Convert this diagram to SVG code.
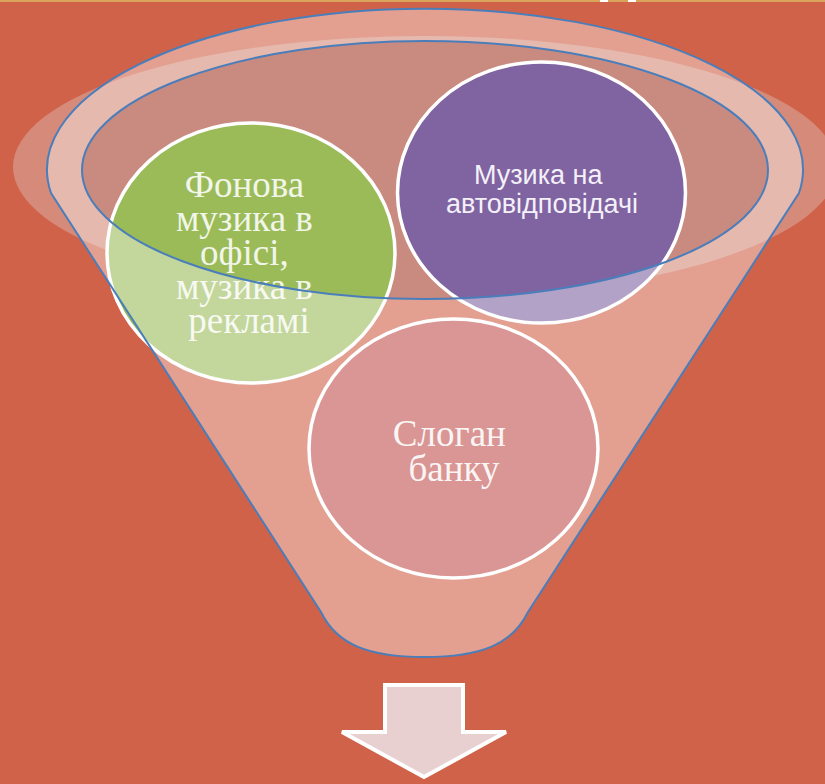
<svg xmlns="http://www.w3.org/2000/svg" width="825" height="784" viewBox="0 0 825 784">
  <style>
    .circ { stroke: #ffffff; stroke-width: 3.5; }
    .serif { font-family: "Liberation Serif", "Times New Roman", serif; font-size: 37px; text-anchor: middle; }
    .sans { font-family: "Liberation Sans", Arial, sans-serif; font-size: 27px; text-anchor: middle; }
    .blue { fill: none; stroke: #4A7EBB; stroke-width: 2; }
  </style>
  <rect x="0" y="0" width="825" height="784" fill="#D06249"/>
  <rect x="0" y="0" width="825" height="2" fill="#D9A35A"/>
  <rect x="600" y="0" width="8" height="2" fill="#ffffff"/>
  <rect x="628" y="0" width="8" height="2" fill="#ffffff"/>

  <g id="funnel-back">
    <ellipse cx="425" cy="167" rx="412" ry="131" fill="#D58A7A"/>
    <ellipse cx="425" cy="170" rx="343" ry="129" fill="#C98A80"/>
  </g>

  <g id="node-green">
    <ellipse class="circ" cx="251" cy="253" rx="144" ry="130" fill="#9BBB59"/>
    <text class="serif" fill="#F2F6EA">
      <tspan x="249" y="197">Фонова</tspan>
      <tspan x="249" y="231">музика в</tspan>
      <tspan x="249" y="265">офісі,</tspan>
      <tspan x="249" y="299">музика в</tspan>
      <tspan x="249" y="333">рекламі</tspan>
    </text>
  </g>

  <g id="node-purple">
    <ellipse class="circ" cx="541.5" cy="192.5" rx="144" ry="130.5" fill="#8064A2"/>
    <text class="sans" fill="#F4F0F8">
      <tspan x="542" y="184">Музика на</tspan>
      <tspan x="542" y="213">автовідповідачі</tspan>
    </text>
  </g>

  <g id="node-red">
    <ellipse class="circ" cx="453.5" cy="448.5" rx="144.5" ry="129.5" fill="#C0504D"/>
    <text class="serif" fill="#F7EEEE">
      <tspan x="454" y="446">Слоган</tspan>
      <tspan x="454" y="481">банку</tspan>
    </text>
  </g>

  <g id="funnel-front">
    <path d="M 51,193 A 378 161 0 1 1 799,193 L 528,612 C 512,645 480,657 424.5,657 C 369,657 337,645 321,612 Z M 82,170 A 343 129 0 1 0 768,170 A 343 129 0 1 0 82,170 Z" fill="#ffffff" fill-opacity="0.4" fill-rule="evenodd"/>
    <path class="blue" d="M 51,193 A 378 161 0 1 1 799,193 L 528,612 C 512,645 480,657 424.5,657 C 369,657 337,645 321,612 Z"/>
    <ellipse class="blue" cx="425" cy="170" rx="343" ry="129"/>
  </g>

  <g id="connectors">
    <polygon points="385,685 463,685 463,732 506,732 424,777 342,732 385,732" fill="#E8D0D1" stroke="#ffffff" stroke-width="4" stroke-linejoin="miter"/>
  </g>
</svg>
